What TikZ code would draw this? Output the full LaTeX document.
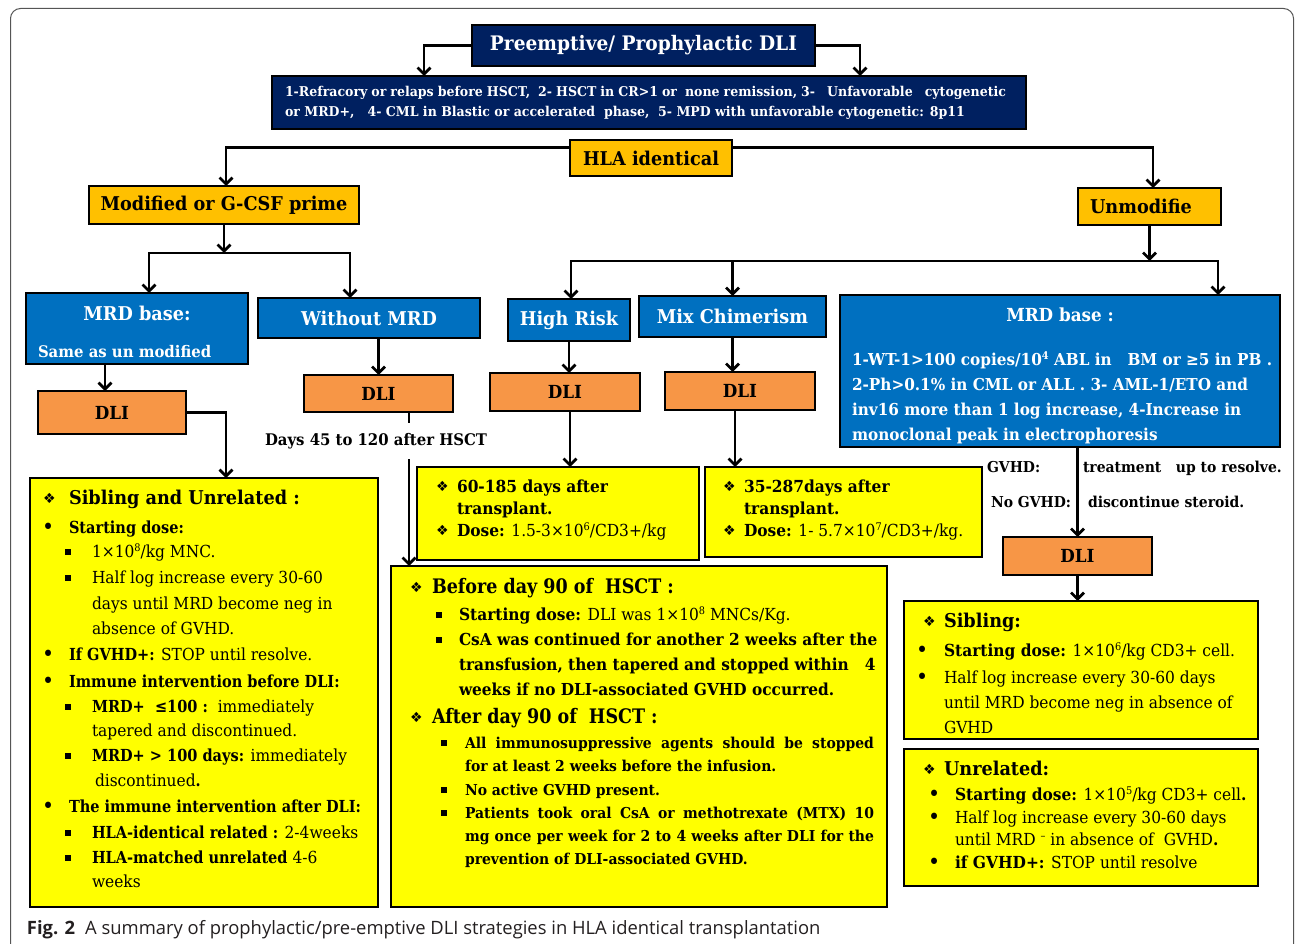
\documentclass[tikz,border=0pt]{standalone}
\usepackage{fontspec}
\setmainfont{DejaVu Serif}[FakeStretch=0.93]
\newfontfamily\nbf{DejaVu Serif}[FakeStretch=0.875]
\newfontfamily\symfont{DejaVu Sans}
\newfontfamily\capfont{Open Sans}
\usetikzlibrary{arrows.meta,calc}
\definecolor{navyc}{HTML}{002060}
\definecolor{goldc}{HTML}{FFC000}
\definecolor{bluec}{HTML}{0070C0}
\definecolor{orgc}{HTML}{F79646}
\definecolor{yelc}{HTML}{FFFF00}
\definecolor{framec}{HTML}{555555}
\definecolor{capc}{HTML}{231F20}
\newcommand\fs[1]{\fontsize{#1}{#1}\selectfont}
\newcommand\Dia[1]{\llap{\makebox[#1][l]{\raisebox{1pt}{\symfont\fs{14}❖}}}}
\newcommand\Bdot[1]{\llap{\makebox[#1][l]{\raisebox{-1.8pt}{\fs{22}\textbullet}}}}
\newcommand\Bsq[1]{\llap{\makebox[#1][l]{\raisebox{2.5pt}{\rule{5.5pt}{5.5pt}}}}}
\newcommand\sps[1]{\raisebox{5.5pt}{\fontsize{10.5}{10.5}\selectfont #1}}
\newcommand\nb[1]{{\nbf\bfseries #1}}
\newcounter{lnc}
\newcommand\Ln[4][]{\stepcounter{lnc}\node[lt,#1] (t\thelnc) at (#2,#3) {#4};}
\tikzset{
  bx/.style={draw=black, line width=1.1pt, inner sep=0pt, outer sep=0pt},
  navybox/.style={bx, fill=navyc, text=white, font=\bfseries\fs{20}},
  goldbox/.style={bx, fill=goldc, font=\bfseries\fs{19}},
  bluebox/.style={bx, fill=bluec, text=white, font=\bfseries\fs{19}},
  orgbox/.style={bx, fill=orgc, font=\bfseries\fs{18}},
  yelbox/.style={bx, fill=yelc},
  wire/.style={line width=2.8pt, draw=black},
  arr/.style={wire, -{Straight Barb[length=6.5pt,width=13pt]}},
  lt/.style={inner sep=0pt, outer sep=0pt, anchor=base west, font=\fs{16.6}},
}
\begin{document}
\begin{tikzpicture}[x=1pt,y=-1pt]
\useasboundingbox (0,0) rectangle (1295,944);
% frame
\draw[framec, line width=1pt, rounded corners=10pt] (10.5,944) -- (10.5,8.5) -- (1293.5,8.5) -- (1293.5,944);

% ---- boxes ----
\node[navybox, minimum width=343pt, minimum height=41pt] (title) at (643.5,45.5) {Preemptive/ Prophylactic DLI};
\node[bx, fill=navyc, minimum width=754pt, minimum height=53pt] (crit) at (649,102.5) {};
\node[goldbox, minimum width=162pt, minimum height=36pt] (hla) at (651,158) {HLA identical};
\node[goldbox, minimum width=270pt, minimum height=38pt] (mod) at (224,205) {Modified or G-CSF prime};
\node[goldbox, minimum width=143pt, minimum height=37pt] (unm) at (1149.5,206.5) {\hspace*{-17pt}Unmodifie};
\node[bluebox, minimum width=222pt, minimum height=71pt] (mrdL) at (137,328.5) {};
\node[bluebox, minimum width=222pt, minimum height=40pt] (wom) at (369,318) {Without MRD};
\node[bluebox, minimum width=122pt, minimum height=42pt] (hr) at (569,320) {High Risk};
\node[bluebox, minimum width=187pt, minimum height=41pt] (mix) at (732.5,316.5) {Mix Chimerism};
\node[bluebox, minimum width=440pt, minimum height=152pt] (mrdR) at (1060,371) {};
\node[orgbox, minimum width=148pt, minimum height=43pt] (dli1) at (112,412.5) {DLI};
\node[orgbox, minimum width=149pt, minimum height=37pt] (dli2) at (378.5,393.5) {DLI};
\node[orgbox, minimum width=150pt, minimum height=38pt] (dli3) at (565,392) {DLI};
\node[orgbox, minimum width=150pt, minimum height=38pt] (dli4) at (740,391) {DLI};
\node[orgbox, minimum width=149pt, minimum height=38pt] (dli5) at (1077.5,556) {DLI};
\node[yelbox, minimum width=348pt, minimum height=429pt] (ybA) at (204,692.5) {};
\node[yelbox, minimum width=282pt, minimum height=93pt] (ybB) at (558,513.5) {};
\node[yelbox, minimum width=277pt, minimum height=90pt] (ybC) at (843.5,512) {};
\node[yelbox, minimum width=496pt, minimum height=341pt] (ybD) at (639,736.5) {};
\node[yelbox, minimum width=354pt, minimum height=138pt] (ybE) at (1081,670) {};
\node[yelbox, minimum width=354pt, minimum height=137pt] (ybF) at (1081,817.5) {};

% ---- coordinates for connectors ----
\coordinate (k1) at (424,76);
\coordinate (k2) at (860,76);
\coordinate (h1) at (226,186);
\coordinate (h2) at (1153,188);
\coordinate (b1) at (149,253);
\coordinate (b1r) at (350,253);
\coordinate (b2) at (571,261);
\coordinate (b2r) at (1218,261);
\coordinate (x105) at (105,0);
\coordinate (x226) at (226,0);
\coordinate (x409) at (409,0);
\coordinate (x570) at (570,0);
\coordinate (x735) at (735,0);

% ---- connectors ----
\draw[arr] (title.west) -| (k1);
\draw[arr] (title.east) -| (k2);
\draw[arr] ($(hla.north west)!0.2!(hla.south west)$) -| (h1);
\draw[arr] ($(hla.north east)!0.2!(hla.south east)$) -| (h2);
\draw[arr] (mod.south) -- (mod.south |- b1);
\draw[arr] (b1r) -| (b1 |- mrdL.north);
\draw[arr] (b1) -| (b1r |- wom.north);
\draw[arr] (unm.south) -- (unm.south |- b2);
\draw[arr] (b2r) -| (b2 |- hr.north);
\draw[arr] (b2) -| (b2r |- mrdR.north);
\draw[arr] (b2 -| mix.north) -- (mix.north);
\draw[arr] (mrdL.south -| x105) -- (dli1.north -| x105);
\draw[arr] (dli2.north |- wom.south) -- (dli2.north);
\draw[arr] (hr.south) -- (hr.south |- dli3.north);
\draw[arr] (mix.south) -- (mix.south |- dli4.north);
\draw[arr] (dli5.north |- mrdR.south) -- (dli5.north);
\draw[arr] (dli1.east) -| (ybA.north -| x226);
\node[font=\bfseries\fs{16}, inner xsep=0pt, inner ysep=10pt] (days) at (376,441) {Days 45 to 120 after HSCT};
\draw[wire] (dli2.south -| x409) -- (days.north -| x409);
\draw[arr] (days.south -| x409) -- (ybD.north -| x409);
\draw[arr] (dli3.south -| x570) -- (ybB.north -| x570);
\draw[arr] (dli4.south -| x735) -- (ybC.north -| x735);
\draw[arr] (dli5.south) -- (ybE.north -| dli5.south);

% ---- texts in dark/blue boxes ----
\Ln[text=white, font=\bfseries\fs{13.5}]{285}{97}{\makebox[721pt][s]{1-Refracory or relaps before HSCT,\ \ 2- HSCT in CR>1 or\ \ none remission, 3-\ \ \ Unfavorable\ \ \ cytogenetic}}
\Ln[text=white, font=\bfseries\fs{13.5}]{285}{117}{or MRD+,\ \ \ 4- CML in Blastic or accelerated\ \ phase,\ \ 5- MPD with unfavorable cytogenetic: 8p11}
\node[text=white, font=\bfseries\fs{19}, inner sep=0pt] (mrdLt) at (137,313) {MRD base:};
\Ln[text=white, font=\bfseries\fs{16}]{38}{357}{Same as un modified}
\node[text=white, font=\bfseries\fs{18}, inner sep=0pt] (mrdRt) at (1060,315) {MRD base :};
\begin{scope}
\clip (840,295) rectangle (1280,444);
\Ln[text=white, font=\bfseries\fs{16.4}]{852}{365}{1-WT-1>100 copies/10\sps{4} ABL in \ \ BM or ≥5 in PB .}
\Ln[text=white, font=\bfseries\fs{16.4}]{852}{390}{2-Ph>0.1\% in CML or ALL . 3- AML-1/ETO and}
\Ln[text=white, font=\bfseries\fs{16.4}]{852}{415}{inv16 more than 1 log increase, 4-Increase in}
\Ln[text=white, font=\bfseries\fs{16.4}]{852}{440}{monoclonal peak in electrophoresis}
\end{scope}

% GVHD labels
\Ln[font=\bfseries\fs{15}]{987}{472}{GVHD:}
\Ln[font=\bfseries\fs{15}]{1083}{472}{treatment\ \ \ up to resolve.}
\Ln[font=\bfseries\fs{15}]{991}{507}{No GVHD:}
\Ln[font=\bfseries\fs{15}]{1088}{507}{discontinue steroid.}

% ---- box A ----
\Ln[font=\bfseries\fs{19}]{69}{504}{\Dia{26pt}Sibling and Unrelated :}
\Ln{69}{533}{\Bdot{27pt}\nb{Starting dose:}}
\Ln{92}{557}{\Bsq{27pt}1×10\sps{8}/kg MNC.}
\Ln{92}{583}{\Bsq{27pt}Half log increase every 30-60}
\Ln{92}{609}{days until MRD become neg in}
\Ln{92}{634}{absence of GVHD.}
\Ln{69}{660}{\Bdot{27pt}\nb{If GVHD+:} STOP until resolve.}
\Ln{69}{687}{\Bdot{27pt}\nb{Immune intervention before DLI:}}
\Ln{92}{712}{\Bsq{27pt}\nb{MRD+\ \ ≤100 :}\ \ immediately}
\Ln{92}{736}{tapered and discontinued.}
\Ln{92}{761}{\Bsq{27pt}\nb{MRD+ > 100 days:} immediately}
\Ln{95}{786}{discontinued\nb{.}}
\Ln{69}{812}{\Bdot{27pt}\nb{The immune intervention after DLI:}}
\Ln{92}{838}{\Bsq{27pt}\nb{HLA-identical related :} 2-4weeks}
\Ln{92}{863}{\Bsq{27pt}\nb{HLA-matched unrelated} 4-6}
\Ln{92}{887}{weeks}

% ---- box B ----
\Ln{457}{492}{\Dia{21pt}\textbf{60-185 days after}}
\Ln{457}{514}{\textbf{transplant.}}
\Ln{457}{536}{\Dia{21pt}\textbf{Dose:} 1.5-3×10\sps{6}/CD3+/kg}

% ---- box C ----
\Ln{744}{492}{\Dia{21pt}\textbf{35-287days after}}
\Ln{744}{514}{\textbf{transplant.}}
\Ln{744}{536}{\Dia{21pt}\textbf{Dose:} 1- 5.7×10\sps{7}/CD3+/kg.}

% ---- box D ----
\Ln[font=\nbf\bfseries\fs{20}]{432}{593}{\Dia{22pt}Before day 90 of\ \ HSCT :}
\Ln{459}{620}{\Bsq{23pt}\textbf{Starting dose:} DLI was 1×10\sps{8} MNCs/Kg.}
\Ln[font=\bfseries\fs{16.5}]{459}{645}{\Bsq{23pt}CsA was continued for another 2 weeks after the}
\Ln[font=\bfseries\fs{16.5}]{459}{670}{transfusion, then tapered and stopped within\ \ \ 4}
\Ln[font=\bfseries\fs{16.5}]{459}{695}{weeks if no DLI-associated GVHD occurred.}
\Ln[font=\nbf\bfseries\fs{20}]{432}{723}{\Dia{22pt}After day 90 of\ \ HSCT :}
\Ln[font=\bfseries\fs{15}]{465}{748}{\Bsq{24pt}\makebox[409pt][s]{All immunosuppressive agents should be stopped}}
\Ln[font=\bfseries\fs{15}]{465}{771}{for at least 2 weeks before the infusion.}
\Ln[font=\bfseries\fs{15}]{465}{795}{\Bsq{24pt}No active GVHD present.}
\Ln[font=\bfseries\fs{15}]{465}{818}{\Bsq{24pt}\makebox[409pt][s]{Patients took oral CsA or methotrexate (MTX) 10}}
\Ln[font=\bfseries\fs{15}]{465}{841}{\makebox[409pt][s]{mg once per week for 2 to 4 weeks after DLI for the}}
\Ln[font=\bfseries\fs{15}]{465}{864}{prevention of DLI-associated GVHD.}

% ---- box E ----
\Ln[font=\bfseries\fs{19}]{944}{627}{\Dia{21pt}Sibling:}
\Ln{944}{656}{\Bdot{28pt}\textbf{Starting dose:} 1×10\sps{6}/kg CD3+ cell.}
\Ln{944}{683}{\Bdot{28pt}Half log increase every 30-60 days}
\Ln{944}{708}{until MRD become neg in absence of}
\Ln{944}{733}{GVHD}

% ---- box F ----
\Ln[font=\bfseries\fs{19}]{944}{775}{\Dia{21pt}Unrelated:}
\Ln{955}{800}{\Bdot{27pt}\textbf{Starting dose:} 1×10\sps{5}/kg CD3+ cell\textbf{.}}
\Ln{955}{823}{\Bdot{27pt}Half log increase every 30-60 days}
\Ln{955}{845}{until MRD \sps{–} in absence of\ \ GVHD\textbf{.}}
\Ln{955}{868}{\Bdot{27pt}\textbf{if GVHD+:} STOP until resolve}

% ---- caption ----
\Ln[text=capc, font=\capfont\fs{18.4}]{27}{934}{\textbf{Fig. 2}\hspace{10pt}A summary of prophylactic/pre-emptive DLI strategies in HLA identical transplantation}
\end{tikzpicture}
\end{document}
